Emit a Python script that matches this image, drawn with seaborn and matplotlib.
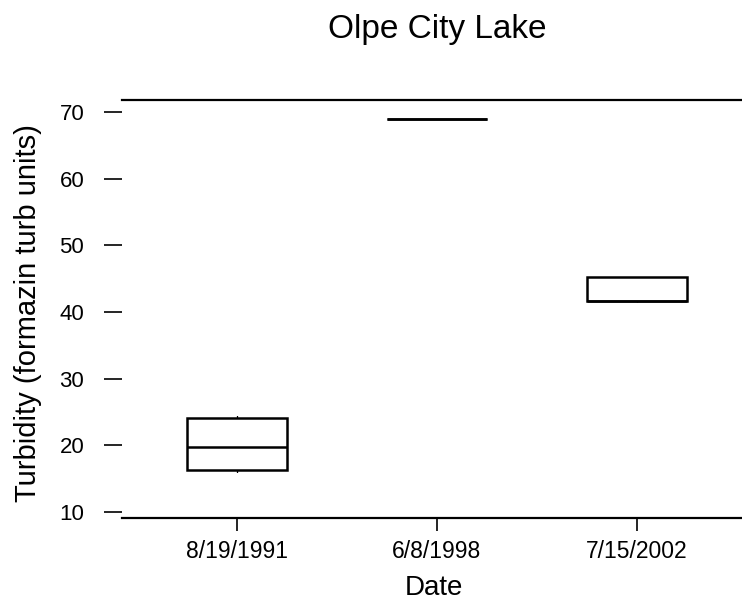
import numpy as np
import pandas as pd
import matplotlib
matplotlib.use("Agg")
import matplotlib.pyplot as plt
import seaborn as sns

# Sample values (box edges, median, whisker ends)
dates = ["8/19/1991", "6/8/1998", "7/15/2002"]
turb_1991 = [15.8, 16.3, 19.7, 24.1, 24.6]
turb_1998 = [69.0, 69.0, 69.0]
turb_2002 = [41.5, 41.7, 41.7, 45.2, 45.2]
y_ticks = [10, 20, 30, 40, 50, 60, 70]

df = pd.DataFrame({
    "Date": [dates[0]] * len(turb_1991) + [dates[1]] * len(turb_1998) + [dates[2]] * len(turb_2002),
    "Turbidity": turb_1991 + turb_1998 + turb_2002,
})

sns.set_style("white")
plt.rcParams["font.family"] = ["Liberation Sans", "DejaVu Sans"]
plt.rcParams["text.color"] = "black"
plt.rcParams["axes.labelcolor"] = "black"

fig = plt.figure(figsize=(7.42, 6.07), dpi=100)
ax = fig.add_axes([0.164, 0.147, 0.836, 0.688])

sns.boxplot(data=df, x="Date", y="Turbidity", order=dates, width=0.5,
            color="white", linecolor="black", linewidth=1.8,
            whis=1.5, showcaps=False, fliersize=0,
            whiskerprops={"linewidth": 0.9, "linestyle": (0, (2, 3))},
            ax=ax)

ax.set_xlim(-0.575, 2.525)
ax.set_ylim(9.1, 71.8)
ax.set_yticks(y_ticks)
ax.set_yticklabels([str(v) for v in y_ticks])

for side in ["left", "right"]:
    ax.spines[side].set_visible(False)
for side in ["top", "bottom"]:
    ax.spines[side].set_linewidth(1.6)
    ax.spines[side].set_color("black")

ax.tick_params(axis="y", direction="out", length=13, width=1.2, pad=14,
               labelsize=16, colors="black", left=True)
ax.tick_params(axis="x", direction="out", length=9, width=1.2, pad=7,
               labelsize=16.5, colors="black", bottom=True)

ax.set_xlabel("Date", fontsize=20)
ax.xaxis.label.set_va("center")
ax.xaxis.set_label_coords(0.503, -0.167)
ax.set_ylabel("Turbidity (formazin turb units)", fontsize=21)
ax.yaxis.set_label_coords(-0.128, 0.49)
fig.text(0.589, 0.952, "Olpe City Lake", ha="center", va="center", fontsize=24)

fig.savefig("out.png", dpi=100)
